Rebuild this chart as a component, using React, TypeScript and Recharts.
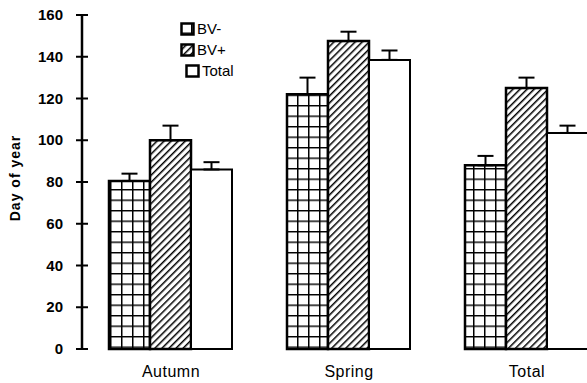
import React from 'react'
import { BarChart, Bar, XAxis, YAxis, ErrorBar } from 'recharts'

const categories = ['Autumn', 'Spring', 'Total']
const bvMinus = [80.5, 122, 88]
const bvMinusErr = [3.5, 8, 4.5]
const bvPlus = [100, 147.5, 125]
const bvPlusErr = [7, 4.5, 5]
const total = [86, 138.5, 103.5]
const totalErr = [3.5, 4.5, 3.5]
const yTicks = [0, 20, 40, 60, 80, 100, 120, 140, 160]

const data = categories.map((name, i) => ({
  name,
  bvMinus: bvMinus[i],
  bvMinusErr: [0, bvMinusErr[i]],
  bvPlus: bvPlus[i],
  bvPlusErr: [0, bvPlusErr[i]],
  total: total[i],
  totalErr: [0, totalErr[i]],
}))

const FONT = '"Liberation Sans", Arial, sans-serif'

const legendItems = [
  { label: 'BV-', fill: 'url(#gridFill)', indent: 0 },
  { label: 'BV+', fill: 'url(#hatchFill)', indent: 0 },
  { label: 'Total', fill: '#fff', indent: 5 },
]

// y axis ticks cross the axis line
const YTick = (props: any) => {
  const { x, y, payload } = props
  return (
    <g>
      <line x1={x - 6} x2={x + 6} y1={y} y2={y} stroke="#000" strokeWidth={2} />
      <text x={x - 19} y={y} dy={5} textAnchor="end" fontFamily={FONT} fontWeight="bold" fontSize={15} fill="#000">
        {payload.value}
      </text>
    </g>
  )
}

const XTick = (props: any) => {
  const { x, y, payload } = props
  return (
    <text x={x} y={y} dy={20} textAnchor="middle" fontFamily={FONT} fontSize={16} letterSpacing={0.5} fill="#000">
      {payload.value}
    </text>
  )
}

const LegendBox = () => (
  <div style={{ position: 'absolute', left: 180, top: 18, fontFamily: FONT, fontSize: 15, lineHeight: '21px' }}>
    {legendItems.map((it) => (
      <div key={it.label} style={{ display: 'flex', alignItems: 'center', marginLeft: it.indent }}>
        <svg width={15} height={14} style={{ marginRight: 2 }}>
          <rect x={1.5} y={1.5} width={12} height={11} fill={it.fill} stroke="#000" strokeWidth={2.5} />
        </svg>
        <span>{it.label}</span>
      </div>
    ))}
  </div>
)

const App: React.FC = () => {
  return (
    <div style={{ position: 'fixed', left: 0, top: 0, width: 587, height: 383, overflow: 'hidden', background: '#fff' }}>
      <svg width={0} height={0} style={{ position: 'absolute' }}>
        <defs>
          <pattern id="gridFill" patternUnits="userSpaceOnUse" width={11} height={10.5}>
            <rect width={11} height={10.5} fill="#fff" />
            <path d="M0 0 L11 0 M0 0 L0 10.5" stroke="#000" strokeWidth={3} />
          </pattern>
          <pattern id="hatchFill" patternUnits="userSpaceOnUse" width={5} height={5} patternTransform="rotate(45)">
            <rect width={5} height={5} fill="#fff" />
            <line x1={0} y1={0} x2={0} y2={5} stroke="#000" strokeWidth={3} />
          </pattern>
        </defs>
      </svg>
      <div style={{ position: 'absolute', left: 15, top: 178, transform: 'translate(-50%, -50%) rotate(-90deg)', fontFamily: FONT, fontWeight: 'bold', fontSize: 14, letterSpacing: 1, whiteSpace: 'nowrap' }}>
        Day of year
      </div>
      <BarChart
        width={620}
        height={383}
        data={data}
        margin={{ top: 15, right: 4, bottom: 0, left: 0 }}
        barGap={0}
        barCategoryGap={27}
      >
        <XAxis dataKey="name" axisLine={false} tickLine={false} height={34} tick={<XTick />} interval={0} />
        <YAxis
          width={82}
          domain={[0, 160]}
          ticks={yTicks}
          tickLine={false}
          tickSize={0}
          tickMargin={0}
          axisLine={{ stroke: '#000', strokeWidth: 2.5 }}
          tick={<YTick />}
        />
        <Bar dataKey="bvMinus" name="BV-" fill="url(#gridFill)" stroke="#000" strokeWidth={2.5} isAnimationActive={false}>
          <ErrorBar dataKey="bvMinusErr" width={8} stroke="#000" strokeWidth={2} direction="y" />
        </Bar>
        <Bar dataKey="bvPlus" name="BV+" fill="url(#hatchFill)" stroke="#000" strokeWidth={2.5} isAnimationActive={false}>
          <ErrorBar dataKey="bvPlusErr" width={8} stroke="#000" strokeWidth={2} direction="y" />
        </Bar>
        <Bar dataKey="total" name="Total" fill="#fff" stroke="#000" strokeWidth={2} isAnimationActive={false}>
          <ErrorBar dataKey="totalErr" width={8} stroke="#000" strokeWidth={2} direction="y" />
        </Bar>
      </BarChart>
      <LegendBox />
    </div>
  )
}

export default App
